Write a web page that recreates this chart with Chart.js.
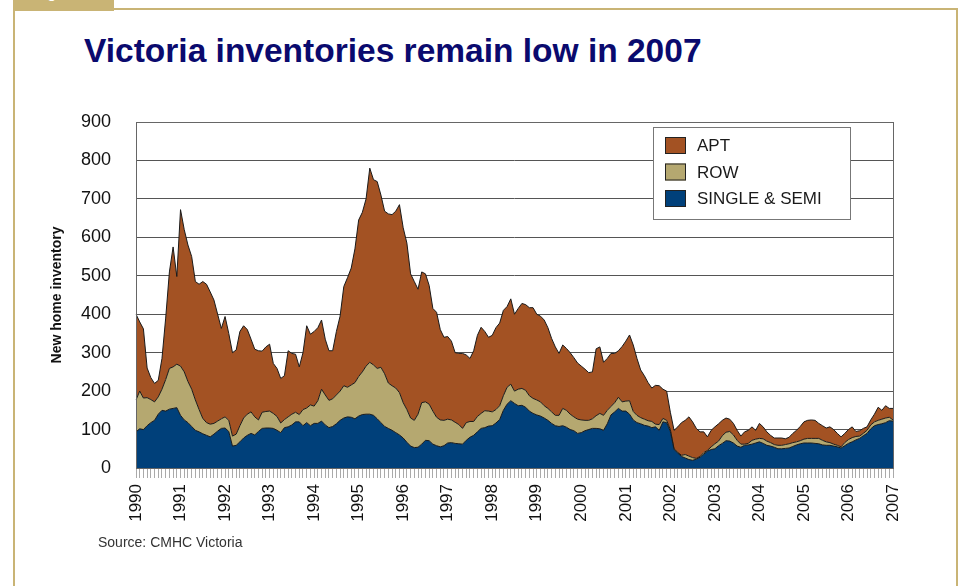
<!DOCTYPE html>
<html>
<head>
<meta charset="utf-8">
<script src="https://cdn.jsdelivr.net/npm/chart.js@4.4.0/dist/chart.umd.min.js"></script>
<style>
  body { margin: 0; background: #fff; }
  #page { position: relative; width: 963px; height: 586px; overflow: hidden; font-family: "Liberation Sans", Arial, sans-serif; }
  .frame-top { position: absolute; left: 13px; top: 8px; width: 945px; height: 2px; background: #c9b475; }
  .frame-left { position: absolute; left: 13px; top: 8px; width: 2px; height: 600px; background: #c9b475; }
  .frame-right { position: absolute; left: 956px; top: 8px; width: 2px; height: 600px; background: #c9b475; }
  .tab { position: absolute; left: 13px; top: 0; width: 101px; height: 11px; background: #c9b475; overflow: hidden; }
  .tab span { position: absolute; left: 22px; top: -15px; color: #fff; font-size: 14px; font-weight: bold; }
  h1 { position: absolute; left: 84px; top: 34px; margin: 0; font-size: 33.5px; line-height: 33px; font-weight: bold; color: #0a0a6e; white-space: nowrap; }
  .source { position: absolute; left: 98px; top: 535px; font-size: 14px; line-height: 14px; color: #333; }
  canvas { position: absolute; left: 0; top: 0; }
</style>
</head>
<body>
<div id="page">
  <div class="tab"><span>Figure</span></div>
  <div class="frame-top"></div>
  <div class="frame-left"></div>
  <div class="frame-right"></div>
  <h1>Victoria inventories remain low in 2007</h1>
  <canvas id="inventoryChart" width="963" height="586"></canvas>
  <div class="source">Source: CMHC Victoria</div>
</div>
<script>
// monthly series, Jan 1990 .. Jan 2007
const years = ['1990', '1991', '1992', '1993', '1994', '1995', '1996', '1997', '1998',
    '1999', '2000', '2001', '2002', '2003', '2004', '2005', '2006', '2007'];

const singleSemi = [
    94, 102, 100, 110, 118, 124, 140, 150, 148, 153,
    155, 157, 137, 125, 118, 108, 98, 94, 89, 85,
    81, 88, 96, 103, 104, 95, 57, 59, 68, 78,
    85, 90, 86, 95, 103, 104, 104, 103, 98, 92,
    105, 107, 112, 120, 120, 110, 118, 110, 116, 116,
    122, 112, 105, 108, 115, 124, 130, 133, 132, 128,
    135, 139, 140, 140, 137, 128, 118, 108, 103, 98,
    92, 86, 78, 67, 57, 53, 54, 62, 72, 71,
    62, 58, 55, 58, 65, 66, 64, 63, 62, 72,
    80, 85, 94, 103, 105, 109, 110, 117, 126, 150,
    166, 175, 168, 162, 163, 158, 148, 142, 138, 135,
    130, 124, 116, 110, 108, 110, 106, 100, 97, 90,
    92, 97, 100, 103, 103, 102, 98, 115, 138, 146,
    155, 148, 148, 140, 125, 118, 115, 111, 109, 105,
    107, 98, 120, 118, 95, 48, 39, 30, 26, 22,
    20, 23, 28, 36, 44, 48, 50, 58, 64, 71,
    70, 65, 57, 54, 59, 60, 62, 65, 68, 64,
    59, 57, 54, 50, 50, 51, 52, 56, 60, 63,
    65, 65, 65, 64, 63, 60, 59, 59, 57, 55,
    52, 58, 64, 68, 73, 77, 84, 90, 102, 110,
    113, 115, 118, 123, 122
];

const row = [
    83, 98, 82, 73, 60, 48, 45, 55, 82, 106,
    108, 113, 128, 125, 107, 97, 79, 58, 40, 33,
    33, 28, 26, 25, 29, 29, 26, 29, 42, 52,
    55, 56, 47, 30, 42, 43, 44, 39, 36, 25,
    21, 26, 28, 25, 19, 42, 38, 54, 45, 59,
    83, 78, 71, 72, 75, 76, 84, 77, 84, 94,
    103, 111, 125, 135, 131, 131, 144, 137, 118, 116,
    116, 110, 92, 85, 73, 71, 86, 108, 100, 95,
    86, 74, 70, 66, 62, 59, 55, 50, 41, 46,
    41, 36, 40, 39, 44, 39, 36, 35, 36, 38,
    44, 43, 32, 43, 44, 44, 40, 39, 39, 37,
    32, 31, 30, 27, 29, 45, 44, 40, 36, 37,
    33, 27, 24, 25, 33, 40, 39, 35, 22, 24,
    29, 24, 26, 35, 22, 19, 16, 16, 14, 16,
    7, 15, 9, 6, 5, 2, 2, 3, 9, 9,
    7, 2, 2, 4, 2, 7, 13, 12, 20, 22,
    25, 21, 15, 8, 3, 4, 10, 10, 9, 12,
    11, 9, 7, 9, 9, 10, 11, 10, 8, 8,
    10, 12, 12, 13, 14, 12, 9, 7, 5, 4,
    3, 8, 10, 11, 9, 6, 6, 8, 10, 10,
    11, 12, 12, 9, 3
];

const apt = [
    223, 180, 180, 77, 57, 48, 43, 80, 160, 251,
    312, 228, 407, 370, 355, 345, 308, 326, 356, 360,
    344, 321, 278, 235, 261, 226, 217, 219, 245, 240,
    220, 189, 176, 180, 159, 168, 174, 130, 125, 116,
    114, 172, 158, 151, 124, 148, 214, 184, 194, 190,
    180, 145, 129, 125, 165, 195, 258, 285, 304, 348,
    407, 415, 435, 505, 482, 486, 448, 423, 440, 445,
    460, 489, 455, 433, 375, 361, 325, 340, 333, 309,
    267, 273, 235, 216, 215, 205, 181, 185, 195, 176,
    164, 184, 211, 224, 206, 192, 199, 213, 215, 222,
    210, 222, 200, 210, 221, 223, 229, 236, 223, 223,
    223, 210, 191, 178, 161, 165, 161, 160, 154, 146,
    140, 133, 124, 122, 174, 173, 138, 135, 138, 128,
    121, 144, 156, 171, 173, 148, 124, 113, 99, 87,
    101, 101, 76, 76, 45, 48, 66, 85, 89, 102,
    93, 78, 64, 54, 35, 43, 44, 45, 40, 37,
    32, 30, 26, 21, 32, 34, 35, 23, 39, 31,
    24, 19, 17, 19, 19, 15, 17, 24, 30, 37,
    45, 47, 48, 47, 39, 38, 36, 41, 38, 31,
    26, 24, 26, 28, 13, 14, 13, 9, 13, 20,
    34, 23, 32, 23, 30
];

// one label per month, year shown on January only
const monthLabels = [];
years.forEach(function (y, i) {
    if (i === years.length - 1) {
        monthLabels.push(y);
        return;
    }
    for (let m = 0; m < 12; m++) {
        monthLabels.push(m === 0 ? y : '');
    }
});

const baseFont = '"Liberation Sans", Arial, sans-serif';

// grey border round the plot area
const plotBorder = {
    id: 'plotBorder',
    afterDatasetsDraw(chart) {
        const a = chart.chartArea;
        const ctx = chart.ctx;
        ctx.save();
        ctx.strokeStyle = '#666';
        ctx.lineWidth = 1;
        ctx.strokeRect(Math.round(a.left) + 0.5, Math.round(a.top) + 0.5,
            Math.round(a.right - a.left), Math.round(a.bottom - a.top));
        ctx.restore();
    }
};

// boxed legend inside the plot, top item first
const boxLegend = {
    id: 'boxLegend',
    afterDraw(chart) {
        const ctx = chart.ctx;
        const items = chart.data.datasets.slice().reverse();
        const x = 653.5, y = 127.5, w = 197, h = 92;
        ctx.save();
        ctx.fillStyle = '#fff';
        ctx.fillRect(x, y, w, h);
        ctx.strokeStyle = '#777';
        ctx.lineWidth = 1;
        ctx.strokeRect(x, y, w, h);
        ctx.font = '17px ' + baseFont;
        ctx.textBaseline = 'middle';
        items.forEach(function (ds, i) {
            const sy = 137 + i * 26.5;
            ctx.fillStyle = ds.backgroundColor;
            ctx.fillRect(665, sy, 21, 17);
            ctx.strokeStyle = '#222';
            ctx.strokeRect(665.5, sy + 0.5, 20, 16);
            ctx.fillStyle = '#1a1a1a';
            ctx.fillText(ds.label, 697, sy + 9.5);
        });
        ctx.restore();
    }
};

new Chart(document.getElementById('inventoryChart'), {
    type: 'line',
    data: {
        labels: monthLabels,
        datasets: [
            {
                label: 'SINGLE & SEMI',
                data: singleSemi,
                backgroundColor: '#00407a',
                borderColor: '#1a1a1a',
                borderWidth: 1,
                fill: 'origin'
            },
            {
                label: 'ROW',
                data: row,
                backgroundColor: '#b5a870',
                borderColor: '#1a1a1a',
                borderWidth: 1,
                fill: '-1'
            },
            {
                label: 'APT',
                data: apt,
                backgroundColor: '#a35223',
                borderColor: '#1a1a1a',
                borderWidth: 1,
                fill: '-1'
            }
        ]
    },
    options: {
        responsive: false,
        animation: false,
        layout: {
            padding: { left: 45, top: 122, right: 70, bottom: 0 }
        },
        elements: {
            point: { radius: 0 },
            line: { tension: 0 }
        },
        plugins: {
            legend: { display: false },
            tooltip: { enabled: false }
        },
        scales: {
            x: {
                offset: false,
                grid: {
                    drawOnChartArea: false,
                    tickLength: 10,
                    tickColor: '#aaa'
                },
                border: { color: '#666' },
                ticks: {
                    autoSkip: false,
                    minRotation: 90,
                    maxRotation: 90,
                    padding: 6,
                    color: '#111',
                    font: { family: baseFont, size: 17 }
                },
                afterFit: function (scale) { scale.height = 118; }
            },
            y: {
                stacked: true,
                min: 0,
                max: 900,
                ticks: {
                    stepSize: 100,
                    padding: 25,
                    color: '#111',
                    font: { family: baseFont, size: 18 }
                },
                grid: {
                    color: '#555',
                    drawTicks: false
                },
                border: { display: false },
                title: {
                    display: true,
                    text: 'New home inventory',
                    color: '#111',
                    padding: { top: 4, bottom: 0 },
                    font: { family: baseFont, size: 14, weight: 'bold' }
                },
                afterFit: function (scale) { scale.width = 91; }
            }
        }
    },
    plugins: [plotBorder, boxLegend]
});
</script>
</body>
</html>
